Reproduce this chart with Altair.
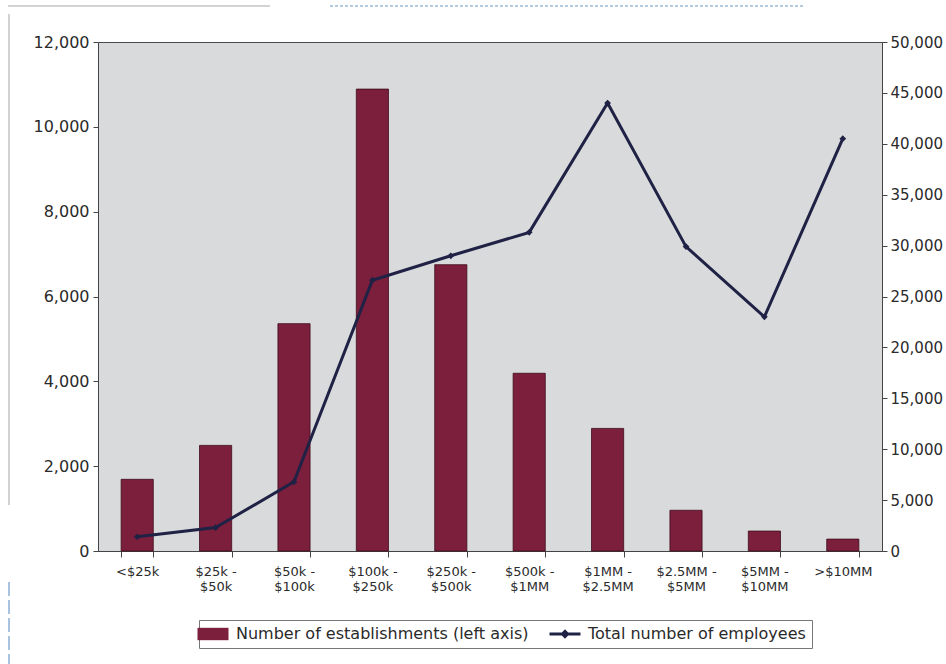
import altair as alt
import pandas as pd

# Revenue brackets along the x axis
brackets = [
    "<$25k", "$25k - $50k", "$50k - $100k", "$100k - $250k", "$250k - $500k",
    "$500k - $1MM", "$1MM - $2.5MM", "$2.5MM - $5MM", "$5MM - $10MM", ">$10MM",
]
# Number of establishments per bracket (left axis)
establishments = [1690, 2490, 5360, 10890, 6750, 4190, 2890, 960, 470, 280]
# Total number of employees per bracket (right axis)
employees = [1400, 2300, 6800, 26600, 29000, 31300, 44000, 29900, 23000, 40500]

left_ticks = [0, 2000, 4000, 6000, 8000, 10000, 12000]
right_ticks = [0, 5000, 10000, 15000, 20000, 25000, 30000, 35000, 40000, 45000, 50000]
series_names = ["Number of establishments (left axis)", "Total number of employees"]

BAR_COLOR = "#7b1f3c"
LINE_COLOR = "#1f2145"
AXIS_COLOR = "#444444"
TEXT_COLOR = "#2a2a2a"
FONT = "DejaVu Sans"

bars_df = pd.DataFrame({
    "bracket": brackets,
    "establishments": establishments,
    "series": [series_names[0]] * len(brackets),
})
emp_df = pd.DataFrame({"bracket": brackets, "employees": employees})

x_enc = alt.X(
    "bracket:N",
    sort=brackets,
    scale=alt.Scale(paddingInner=0.59, paddingOuter=0.295),
    axis=alt.Axis(
        title=None,
        labelAngle=0,
        labelExpr="split(replace(datum.label, ' - ', ' -|'), '|')",
        tickBand="extent",
        tickSize=6,
        labelPadding=8,
        labelFont=FONT,
        labelFontSize=13,
        labelLineHeight=15,
        labelColor=TEXT_COLOR,
        domainColor=AXIS_COLOR,
        tickColor=AXIS_COLOR,
    ),
)

# Legend symbols: a wide swatch for the bars, a line with a diamond for the employees
swatch_path = "M-2,-0.8H2V0.8H-2Z"
line_path = "M-2,-0.18H2V0.18H-2ZM0,-0.6L0.6,0L0,0.6L-0.6,0Z"
symbol_expr = (
    f"datum.value == '{series_names[1]}' ? '{line_path}' : '{swatch_path}'"
)

bars = alt.Chart(bars_df).mark_bar(stroke="#3d0d1c", strokeWidth=0.8).encode(
    x=x_enc,
    y=alt.Y(
        "establishments:Q",
        scale=alt.Scale(domain=[0, 12000]),
        axis=alt.Axis(
            title=None,
            values=left_ticks,
            format=",d",
            grid=False,
            tickSize=5,
            labelPadding=4,
            labelFont=FONT,
            labelFontSize=16,
            labelColor=TEXT_COLOR,
            domainColor=AXIS_COLOR,
            tickColor=AXIS_COLOR,
        ),
    ),
    color=alt.Color(
        "series:N",
        scale=alt.Scale(domain=series_names, range=[BAR_COLOR, LINE_COLOR]),
        legend=alt.Legend(
            title=None,
            orient="none",
            legendX=101,
            legendY=578,
            direction="horizontal",
            symbolType=alt.ExprRef(expr=symbol_expr),
            symbolSize=240,
            symbolStrokeWidth=0,
            symbolOpacity=1,
            labelFont=FONT,
            labelFontSize=16,
            labelLimit=400,
            labelColor=TEXT_COLOR,
            labelOffset=15,
            columnPadding=20,
            padding=6,
            strokeColor="#777777",
            fillColor="#ffffff",
        ),
    ),
)

emp_y = alt.Y(
    "employees:Q",
    scale=alt.Scale(domain=[0, 50000]),
    axis=alt.Axis(
        title=None,
        orient="right",
        values=right_ticks,
        format=",d",
        grid=False,
        tickSize=5,
        labelPadding=3,
        labelFont=FONT,
        labelFontSize=15,
        labelColor=TEXT_COLOR,
        domainColor=AXIS_COLOR,
        tickColor=AXIS_COLOR,
    ),
)

emp_line = alt.Chart(emp_df).mark_line(color=LINE_COLOR, strokeWidth=3).encode(
    x=x_enc, y=emp_y
)
emp_points = alt.Chart(emp_df).mark_point(
    shape="diamond", filled=True, size=45, color=LINE_COLOR, opacity=1
).encode(x=x_enc, y=emp_y)
employees_layer = alt.layer(emp_line, emp_points)

# Faint frame lines of the page around the chart
frame_df = pd.DataFrame({"k": [0]})
frame_left = alt.Chart(frame_df).mark_rule(color="#d2d2d2", strokeWidth=2).encode(
    x=alt.value(-89), y=alt.value(-28), y2=alt.value(463)
)
frame_top = alt.Chart(frame_df).mark_rule(color="#c4c4c4", strokeWidth=1.5).encode(
    x=alt.value(-90), x2=alt.value(172), y=alt.value(-36)
)
frame_top_blue = alt.Chart(frame_df).mark_rule(
    color="#9dbbd6", strokeWidth=1.5, strokeDash=[3, 2]
).encode(x=alt.value(232), x2=alt.value(705), y=alt.value(-36))
frame_left_blue = alt.Chart(frame_df).mark_rule(
    color="#a8c4de", strokeWidth=2, strokeDash=[14, 4]
).encode(x=alt.value(-89), y=alt.value(540), y2=alt.value(622))

chart = (
    alt.layer(bars, employees_layer, frame_left, frame_top, frame_top_blue, frame_left_blue)
    .resolve_scale(y="independent")
    .properties(
        width=784,
        height=509,
        autosize=alt.AutoSizeParams(type="none"),
        padding={"left": 98, "top": 42, "right": 64, "bottom": 113},
        background="#ffffff",
    )
    .configure_view(fill="#d9dadb", stroke="#4a4a4a", strokeWidth=1)
)

chart.save("out.html", embed_options={"renderer": "svg", "actions": False})
